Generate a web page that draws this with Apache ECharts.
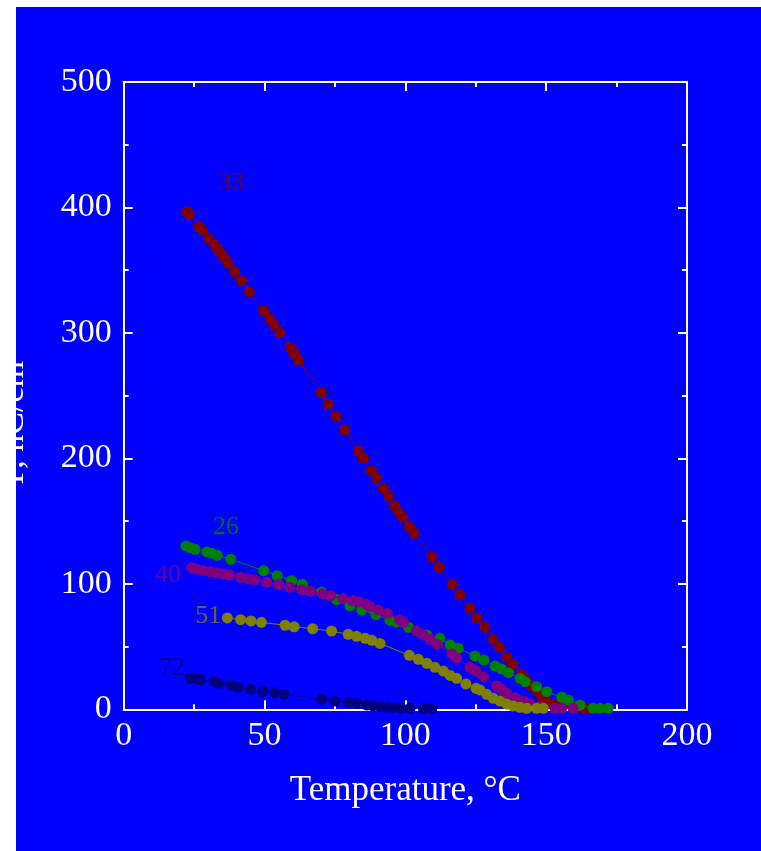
<!DOCTYPE html>
<html><head><meta charset="utf-8">
<script src="https://cdn.jsdelivr.net/npm/echarts@6/dist/echarts.min.js"></script>
<style>
html,body{margin:0;padding:0;background:#fff;width:761px;height:851px;overflow:hidden}
#c{position:absolute;left:16px;top:7px;width:745px;height:844px;background:#0000ff}
</style></head>
<body><div id="c"></div>
<script>
// Temperature (°C) and surface charge Γ (nC/cm) for each series
const t33 = [22.4,23.3,26.7,27.9,30.2,32.2,33.6,34.8,35.6,37.1,39.4,41.8,44.6,49.7,51.9,53.4,55.4,59.2,60.2,60.8,62.2,70.2,72.6,75.4,78.5,83.4,85.1,87.9,89.7,92.2,94.0,96.2,97.5,99.1,101.4,103.1,109.5,112.0,116.6,119.4,122.9,125.4,128.2,131.1,133.4,136.1,138.2,141.1,142.7,144.6,146.6,148.4,150.2,152.5,155.5,159.6,163.2,165.3];
const g33 = [396.5,394.5,385,382,375.4,370,366,362.7,360,355.5,348.8,341.6,332.9,317.5,310.9,306.3,300.2,288.2,285,283,277.9,252.4,243.1,233.5,222.6,205.6,200,190.2,184.6,176.1,170,162.3,157.5,153,145.6,140.3,121.2,113.2,99.6,91.1,80.5,72.8,65.4,55.8,49.4,41.4,35.6,27.9,24.2,18.8,14.6,10,6.6,4,2,0.8,0.8,0.5];

const t26 = [22.1,23.5,25.3,29.5,31.2,33.2,38.0,49.7,54.5,59.6,63.4,70.3,75.5,80.3,84.5,89.5,94.5,96.9,101.1,107.6,112.3,115.9,118.8,124.7,127.9,131.9,134.2,136.6,140.7,142.5,146.6,150.2,155.5,157.9,162.0,166.7,169.1,172.0];
const g26 = [130.2,128.8,127.5,125.4,124.3,122.7,119.6,110.5,106.5,102.5,99.6,93.5,87.5,82.5,79.1,75.5,71,69.5,65.4,59.2,56.6,51.3,48.6,42.5,39.3,34.5,32.1,29.2,24.7,22,18,14,9.6,7.4,3.4,0.8,0.8,0.8];

const t40 = [24.1,25.9,28.3,30.6,33.0,35.4,37.5,41.5,44.2,46.6,50.8,55.1,59.0,63.2,66.4,70.7,73.5,77.8,81.3,83.7,86.3,87.4,90.4,93.6,97.9,99.3,104.0,106.4,108.8,111.3,116.5,118.2,122.9,125.1,127.7,132.4,134.2,136.0,138.9,141.9,144.3,147.8,153.1,155.5,159.6];
const g40 = [112.9,111.8,110.5,109.7,108.9,107.8,107,105.2,104.1,103.1,101.2,99.3,97.2,95.3,94,92.1,90.5,88.2,86.6,85.8,83.5,81.8,79.1,76.5,71.2,69.3,62.4,59.2,55.8,51.8,44.1,41.1,33.5,30.5,26,18.6,15.9,12.8,9.2,6.5,4.2,2.1,0.8,0.8,0.8];

const t51 = [36.8,41.5,45.2,48.9,57.3,60.5,67.1,73.8,79.7,82.7,85.7,88.1,91.0,101.4,104.6,107.6,110.5,113.5,115.9,118.2,121.5,125.1,126.5,128.9,131.2,133.6,136.0,138.3,140.7,143.1,146.6,149.0];
const g51 = [72.8,71.4,70.4,69.3,67,65.8,64.2,62.4,59.8,58.2,56.6,55,52.5,43,39.9,36.7,33.5,30.5,27,24.7,20.2,16.7,15.4,12,8.8,6.6,4.2,2.6,1.6,0.8,0.8,0.8];

const t72 = [23.5,25.9,27.3,32.2,33.8,38.0,40.7,45.1,49.4,53.7,56.9,70.3,75.1,79.7,82.7,86.3,88.5,91.0,93.5,95.7,98.5,101.7,106.4,109.4];
const g72 = [24.7,24.2,23.4,22,20.7,19.1,17.5,15.9,14.3,13.2,12,8,6.6,5.6,4.8,3.4,2.8,2.1,1.7,1.3,1,0.8,0.5,0.5];

// Curve annotations (text and anchor in data units)
const labelText = ['33','26','40','51','72'];
const labelT = [38.1,36.3,15.7,30.0,17.1];
const labelG = [419,145,107,74.5,32.5];

const xTicks = [0,50,100,150,200];
const yTicks = [0,100,200,300,400,500];

const colors = ['#800000','#008000','#800080','#808000','#000080'];
const FONT = "'Liberation Serif','Times New Roman',serif";

function zip(a,b){return a.map((v,i)=>[v,b[i]]);}
const seriesData = [zip(t33,g33),zip(t26,g26),zip(t40,g40),zip(t51,g51),zip(t72,g72)];

const axisCommon = {
  min: 0, splitLine:{show:false}, minorSplitLine:{show:false},
  axisLine:{show:true,onZero:false,lineStyle:{color:'#fff',width:2}},
  axisTick:{show:true,inside:true,length:9,lineStyle:{color:'#fff',width:2}},
  minorTick:{show:true,splitNumber:2,length:5,lineStyle:{color:'#fff',width:2}}
};

const chart = echarts.init(document.getElementById('c'), null, {renderer:'canvas'});
const option = {
  backgroundColor:'#0000ff',
  animation:false,
  grid:{left:107.7,top:75,right:74,bottom:141.7,containLabel:false,outerBoundsMode:'none'},
  xAxis:[
    Object.assign({}, axisCommon, {type:'value',position:'bottom',max:200,interval:50,
      name:'Temperature, °C',nameLocation:'middle',nameGap:64,
      nameTextStyle:{color:'#fff',fontFamily:FONT,fontSize:35},
      axisLabel:{color:'#fff',fontFamily:FONT,fontSize:34,margin:10,
        formatter:v=>xTicks.includes(v)?String(v):''}}),
    Object.assign({}, axisCommon, {type:'value',position:'top',max:200,interval:50,
      axisLabel:{show:false}})
  ],
  yAxis:[
    Object.assign({}, axisCommon, {type:'value',position:'left',max:500,interval:100,
      name:'Γ, nC/cm',nameLocation:'middle',nameRotate:90,nameGap:93,
      nameTextStyle:{color:'#fff',fontFamily:FONT,fontSize:34,padding:[0,54,0,0]},
      axisLabel:{color:'#fff',fontFamily:FONT,fontSize:34,margin:12,
        formatter:v=>yTicks.includes(v)?String(v):''}}),
    Object.assign({}, axisCommon, {type:'value',position:'right',max:500,interval:100,
      axisLabel:{show:false}})
  ],
  series: seriesData.map((d,i)=>({
    type:'line', data:d, symbol:'circle', symbolSize:11, showSymbol:true,
    itemStyle:{color:colors[i]}, lineStyle:{color:colors[i],width:1},
    z:2+i
  })).concat([{
    type:'scatter', symbolSize:0, z:10,
    data: labelText.map((s,i)=>({name:s,value:[labelT[i],labelG[i]],
      label:{show:true,position:'inside',formatter:s,color:colors[i],fontFamily:FONT,fontSize:26}}))
  }])
};
chart.setOption(option);
</script>
</body></html>
